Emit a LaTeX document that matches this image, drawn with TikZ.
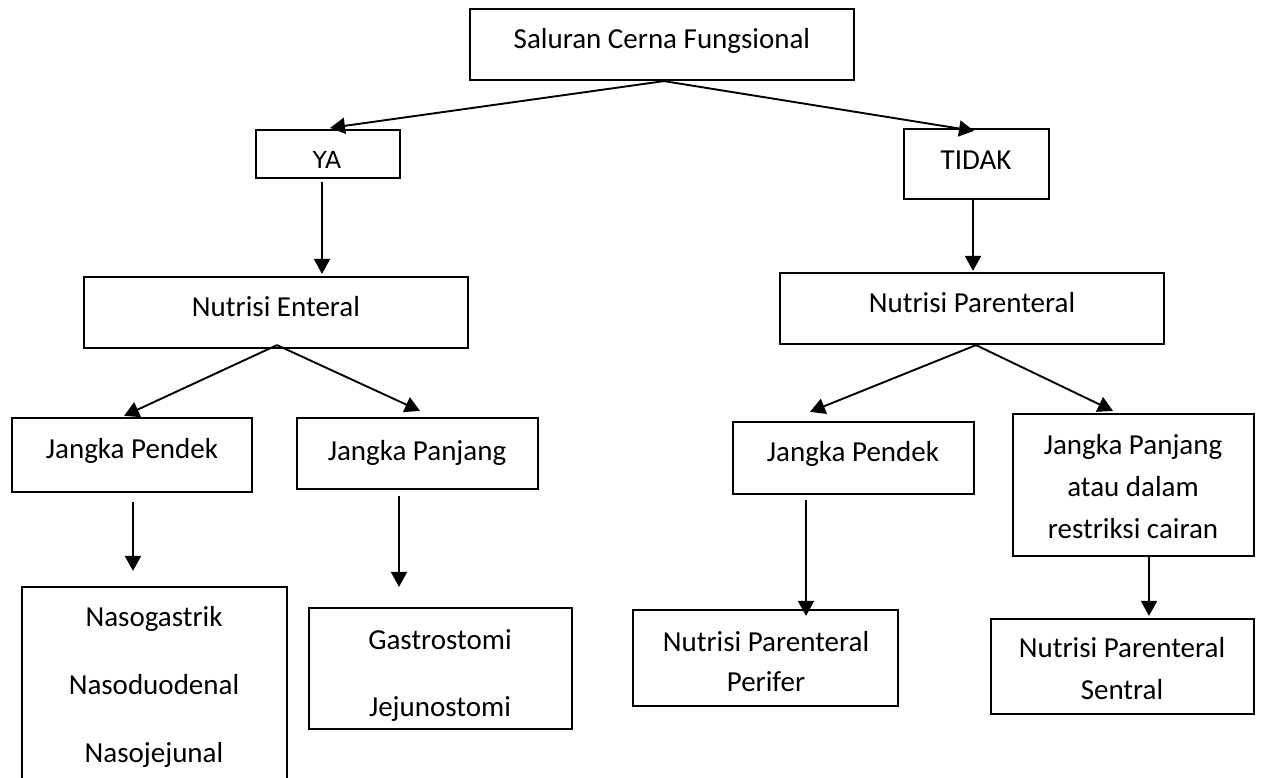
\documentclass[tikz,border=0pt]{standalone}
\usepackage{fontspec}
\setmainfont{Carlito}
\newfontfamily\yafont{DejaVu Sans}
\usetikzlibrary{arrows.meta,calc}
\newcommand\cst{\rule[-0.25em]{0pt}{1.14em}}
\begin{document}
\begin{tikzpicture}[x=1pt,y=-1pt,
  box/.style={draw=black, line width=2.2pt, inner sep=0pt},
  txt/.style={inner sep=0pt, align=center, font=\fontsize{29pt}{42pt}\selectfont},
  arr/.style={line width=1.9pt, -{Triangle[length=15pt,width=16pt]}}]
\useasboundingbox (0,0) rectangle (1261,777);
\fill[white] (0,0) rectangle (1261,777);
\clip (0,0) rectangle (1261,777);
% boxes
\node[box, minimum width=384pt, minimum height=71pt] (top) at (662,44.5) {};
\node[box, minimum width=144pt, minimum height=48pt] (ya) at (328,154) {};
\node[box, minimum width=145pt, minimum height=70pt] (tidak) at (976.5,164) {};
\node[box, minimum width=384pt, minimum height=71pt] (ent) at (276,312.5) {};
\node[box, minimum width=384pt, minimum height=71pt] (par) at (972,308.5) {};
\node[box, minimum width=240pt, minimum height=74pt] (jpenL) at (132,455) {};
\node[box, minimum width=241pt, minimum height=71pt] (jpanL) at (417.5,453.5) {};
\node[box, minimum width=241pt, minimum height=72pt] (jpenR) at (853.5,458) {};
\node[box, minimum width=241pt, minimum height=142pt] (jpanR) at (1133.5,485) {};
\node[box, minimum width=265pt, minimum height=213pt] (naso) at (154.5,693.5) {};
\node[box, minimum width=263pt, minimum height=121pt] (gastro) at (440.5,668.5) {};
\node[box, minimum width=265pt, minimum height=96pt] (perif) at (765.5,658) {};
\node[box, minimum width=263pt, minimum height=95pt] (sentral) at (1122.5,666.5) {};
% texts
\node[txt] (ttop) at (662,39) {\cst Saluran Cerna Fungsional};
\node[txt, font=\yafont\fontsize{23.5pt}{28pt}\selectfont] (tya) at (327,160.5) {\cst YA};
\node[txt] (ttidak) at (976,160) {\cst TIDAK};
\node[txt] (tent) at (276,307) {\cst Nutrisi Enteral};
\node[txt] (tpar) at (972,303) {\cst Nutrisi Parenteral};
\node[txt] (tjpenL) at (132,449) {\cst Jangka Pendek};
\node[txt] (tjpanL) at (417,451) {\cst Jangka Panjang};
\node[txt] (tjpenR) at (853,452) {\cst Jangka Pendek};
\node[txt] (tjpanR) at (1133,487) {\cst Jangka Panjang\\\cst atau dalam\\\cst restriksi cairan};
\node[txt, font=\fontsize{29pt}{68pt}\selectfont] (tnaso) at (154,685) {\cst Nasogastrik\\\cst Nasoduodenal\\\cst Nasojejunal};
\node[txt, font=\fontsize{29pt}{67pt}\selectfont] (tgastro) at (440,673.5) {\cst Gastrostomi\\\cst Jejunostomi};
\node[txt, font=\fontsize{29pt}{40pt}\selectfont] (tperif) at (766,662) {\cst Nutrisi Parenteral\\\cst Perifer};
\node[txt] (tsentral) at (1122,669) {\cst Nutrisi Parenteral\\\cst Sentral};
% connectors
\draw[arr] ($(top.south)+(2,0)$) -- ($(ya.north)+(2,-1)$);
\draw[arr] ($(top.south)+(2,0)$) -- ($(tidak.north)+(-2.5,3)$);
\draw[arr] ($(ya.south)+(-6,3)$) -- ($(ya.south |- ent.north)+(-6,-2)$);
\draw[arr] ($(tidak.south)+(-3.5,0)$) -- ($(tidak.south |- par.north)+(-3.5,-1)$);
\draw[arr] ($(ent.south)+(1,-4)$) -- ($(jpenL.north)+(-8,-1)$);
\draw[arr] ($(ent.south)+(1,-4)$) -- ($(jpanL.north)+(2.5,-6)$);
\draw[arr] ($(par.south)+(4,0)$) -- ($(jpenR.north)+(-43.5,-9)$);
\draw[arr] ($(par.south)+(4,0)$) -- ($(jpanR.north)+(-20.5,-2)$);
\draw[arr] ($(jpenL.south)+(1,9)$) -- ($(jpenL.south |- naso.north)+(1,-15)$);
\draw[arr] ($(jpanL.south)+(-18.5,6)$) -- ($(jpanL.south |- gastro.north)+(-18.5,-20)$);
\draw[arr] ($(jpenR.south)+(-47.5,5)$) -- ($(jpenR.south |- perif.north)+(-47.5,7)$);
\draw[arr] ($(jpanR.south)+(15.5,0)$) -- ($(jpanR.south |- sentral.north)+(15.5,-2)$);
\end{tikzpicture}
\end{document}
